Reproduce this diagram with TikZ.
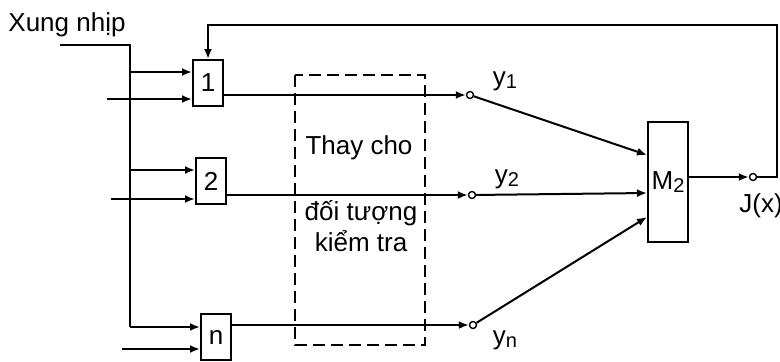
\documentclass[tikz,border=0pt]{standalone}
\usepackage{fontspec}
\setmainfont{Liberation Sans}
\usetikzlibrary{arrows.meta}
\newcommand{\lowidx}[1]{\raisebox{-1.5pt}{\fontsize{10}{12}\selectfont #1}}
\begin{document}
\begin{tikzpicture}[x=0.5pt,y=-0.5pt,line width=1pt,
    lbl/.style={font=\fontsize{13}{15}\selectfont,inner sep=0pt},
    blk/.style={draw,minimum width=15pt,minimum height=23pt,inner sep=0pt,font=\fontsize{13}{15}\selectfont},
    tap/.style={draw,circle,minimum size=3.5pt,inner sep=0pt,line width=0.7pt},
    arr/.style={-{Latex[length=5pt,width=4pt]}}]
  \useasboundingbox (0,0) rectangle (780,361);
  % blocks
  \node[blk] (b1) at (208,83) {1};
  \node[blk] (b2) at (211,181) {2};
  \node[blk] (bn) at (216,337) {n};
  \node[blk,minimum width=20pt,minimum height=60pt] (m2) at (668,182) {M\lowidx{2}};
  % clock line and bus
  \node[lbl] (clk) at (67,25) {Xung nhịp};
  \coordinate (cin) at (60,45);
  \coordinate (btop) at (130,45);
  \draw[line width=1.3pt] (cin) -- (btop) -- (130,327);
  \draw[arr] (130,72) -- (b1.west |- 0,72);
  \draw[arr] (130,170) -- (b2.west |- 0,170);
  \draw[arr] (130,327) -- (bn.west |- 0,327);
  \draw[arr] (107,99) -- (b1.west |- 0,99);
  \draw[arr] (111,199) -- (b2.west |- 0,199);
  \draw[arr] (122,349) -- (bn.west |- 0,349);
  % object under test
  \draw[dashed,line width=1pt,dash pattern=on 6pt off 3pt] (295,75) rectangle (425,345);
  \node[lbl] (t1) at (359,148) {Thay cho};
  \node[lbl] (t2) at (361,213) {đối tượng};
  \node[lbl] (t3) at (361,241) {kiểm tra};
  % outputs y1..yn
  \node[tap] (o1) at (470,95) {};
  \node[tap] (o2) at (472,195) {};
  \node[tap] (on) at (473,325) {};
  \draw[arr] (b1.east |- o1) -- (o1);
  \draw[arr] (b2.east |- o2) -- (o2);
  \draw[arr] (bn.east |- on) -- (on);
  \node[lbl] (y1) at (505,81) {y\lowidx{1}};
  \node[lbl] (y2) at (507,179) {y\lowidx{2}};
  \node[lbl] (yn) at (505,340) {y\lowidx{n}};
  \draw[arr] (o1) -- (m2.west |- 0,155);
  \draw[arr] (o2) -- (m2.west |- 0,193);
  \draw[arr] (on) -- (m2.west |- 0,217);
  % result and feedback
  \node[tap] (oj) at (753,177) {};
  \draw[arr] (m2.east |- oj) -- (oj);
  \node[lbl] (jx) at (761,206) {J(x)};
  \coordinate (fb) at (777,25);
  \draw[arr] (oj) -- (oj -| fb) -- (fb) -| (b1.north);
\end{tikzpicture}
\end{document}
